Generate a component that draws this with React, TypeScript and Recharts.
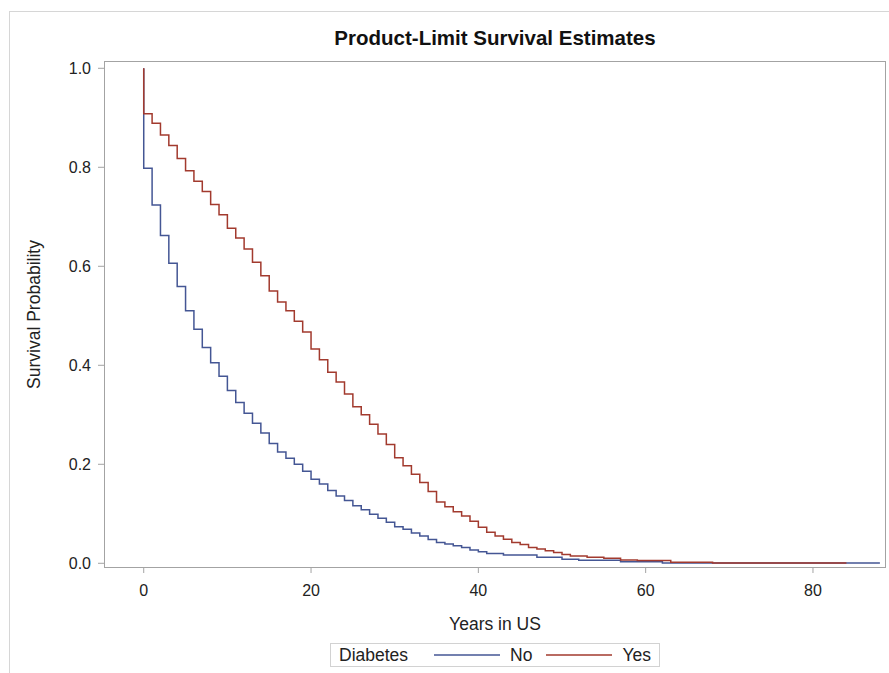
import { Legend, Line, LineChart, XAxis, YAxis } from "recharts";

// Kaplan-Meier step estimates (years in US -> survival)
const yearsNo = [
  0, 0, 1, 2, 3, 4, 5, 6, 7, 8, 9, 10, 11, 12, 13, 14, 15, 16, 17, 18, 19, 20, 21, 22, 23, 24, 25,
  26, 27, 28, 29, 30, 31, 32, 33, 34, 35, 36, 37, 38, 39, 40, 41, 43, 47, 50, 52, 57, 62, 88,
];
const survNo = [
  1.0, 0.798, 0.724, 0.662, 0.606, 0.559, 0.51, 0.473, 0.436, 0.405, 0.378, 0.349, 0.325, 0.303,
  0.283, 0.263, 0.242, 0.225, 0.212, 0.2, 0.186, 0.17, 0.16, 0.147, 0.136, 0.127, 0.116, 0.108,
  0.099, 0.091, 0.083, 0.074, 0.069, 0.061, 0.055, 0.048, 0.042, 0.039, 0.0356, 0.032, 0.027,
  0.0234, 0.02, 0.0168, 0.012, 0.008, 0.006, 0.003, 0.0005, 0.0005,
];

const yearsYes = [
  0, 0, 1, 2, 3, 4, 5, 6, 7, 8, 9, 10, 11, 12, 13, 14, 15, 16, 17, 18, 19, 20, 21, 22, 23, 24, 25,
  26, 27, 28, 29, 30, 31, 32, 33, 34, 35, 36, 37, 38, 39, 40, 41, 42, 43, 44, 45, 46, 47, 48, 49,
  50, 51, 53, 55, 57, 59, 63, 68, 84,
];
const survYes = [
  1.0, 0.908, 0.889, 0.865, 0.844, 0.818, 0.793, 0.772, 0.751, 0.725, 0.704, 0.677, 0.657, 0.635,
  0.608, 0.581, 0.55, 0.528, 0.51, 0.489, 0.467, 0.433, 0.411, 0.386, 0.366, 0.342, 0.316, 0.3,
  0.281, 0.261, 0.24, 0.213, 0.197, 0.18, 0.163, 0.145, 0.124, 0.114, 0.104, 0.0956, 0.085, 0.073,
  0.0626, 0.055, 0.0485, 0.042, 0.038, 0.032, 0.029, 0.0255, 0.022, 0.018, 0.0148, 0.012, 0.01,
  0.0067, 0.0055, 0.002, 0.0005, 0.0005,
];

const groups = ["No", "Yes"];
const xTicks = [0, 20, 40, 60, 80];
const yTicks = [0, 0.2, 0.4, 0.6, 0.8, 1.0];

const noData = yearsNo.map((t, i) => ({ t, s: survNo[i] }));
const yesData = yearsYes.map((t, i) => ({ t, s: survYes[i] }));

const FONT = '"Liberation Sans", Arial, sans-serif';
const FRAME = "#a3a3a3";
const COLORS: Record<string, string> = {
  No: "#445694",
  Yes: "#a23a2e",
};

// SAS-style boxed legend; colours come from the group names, not the payload
function SasLegend() {
  return (
    <div
      style={{
        display: "flex",
        alignItems: "center",
        height: 22,
        border: "1px solid #d2d2d2",
        fontFamily: FONT,
        fontSize: 17.5,
        color: "#222",
        padding: "0 8px",
        whiteSpace: "nowrap",
        background: "#fff",
      }}
    >
      <span style={{ marginRight: 26 }}>Diabetes</span>
      {groups.map((g, i) => (
        <span key={g} style={{ display: "flex", alignItems: "center", marginLeft: i ? 14 : 0 }}>
          <svg width={66} height={4} style={{ marginRight: 10 }}>
            <line x1={0} x2={66} y1={2} y2={2} stroke={COLORS[g]} strokeWidth={1.5} />
          </svg>
          {g}
        </span>
      ))}
    </div>
  );
}

export default function App() {
  return (
    <div style={{ position: "absolute", left: 0, top: 0, width: 889, height: 673, background: "#fff" }}>
      <div
        style={{
          position: "absolute",
          left: 9,
          top: 11,
          width: 880,
          height: 662,
          borderTop: "1px solid #d6d6d6",
          borderLeft: "1px solid #d6d6d6",
        }}
      />
      <div
        style={{
          position: "absolute",
          left: 105,
          width: 780,
          top: 26,
          textAlign: "center",
          fontFamily: FONT,
          fontWeight: "bold",
          fontSize: 20.5,
          color: "#111",
        }}
      >
        Product-Limit Survival Estimates
      </div>
      <LineChart width={889} height={673} margin={{ top: 62, right: 4, bottom: 36, left: 10 }}>
        <XAxis
          dataKey="t"
          type="number"
          domain={[-4.63, 88.61]}
          ticks={xTicks}
          allowDataOverflow
          height={70}
          stroke={FRAME}
          axisLine={false}
          tickSize={6}
          tickMargin={12}
          tick={{ fill: "#222", fontSize: 16, fontFamily: FONT }}
          label={{
            value: "Years in US",
            position: "insideBottom",
            offset: 7,
            fill: "#222",
            fontSize: 17.5,
            fontFamily: FONT,
          }}
        />
        <YAxis
          type="number"
          domain={[-0.0075, 1.0127]}
          ticks={yTicks}
          allowDataOverflow
          width={95}
          stroke={FRAME}
          axisLine={false}
          tickSize={7}
          tickMargin={7}
          tickFormatter={(v: number) => v.toFixed(1)}
          tick={{ fill: "#222", fontSize: 16, fontFamily: FONT }}
          label={{
            value: "Survival Probability",
            angle: -90,
            position: "insideLeft",
            offset: 24,
            style: { textAnchor: "middle" },
            fill: "#222",
            fontSize: 17.5,
            fontFamily: FONT,
          }}
        />
        <Line
          data={noData}
          dataKey="s"
          name="No"
          type="stepAfter"
          stroke={COLORS.No}
          strokeWidth={1.5}
          dot={false}
          activeDot={false}
          isAnimationActive={false}
        />
        <Line
          data={yesData}
          dataKey="s"
          name="Yes"
          type="stepAfter"
          stroke={COLORS.Yes}
          strokeWidth={1.5}
          dot={false}
          activeDot={false}
          isAnimationActive={false}
        />
        <Legend
          layout="horizontal"
          verticalAlign="middle"
          align="center"
          wrapperStyle={{ left: 330, top: 643, width: "auto", height: "auto" }}
          content={() => <SasLegend />}
        />
      </LineChart>
      {/* plot frame */}
      <div
        style={{
          position: "absolute",
          left: 104,
          top: 61,
          width: 780,
          height: 505,
          border: `1px solid ${FRAME}`,
          pointerEvents: "none",
        }}
      />
    </div>
  );
}
